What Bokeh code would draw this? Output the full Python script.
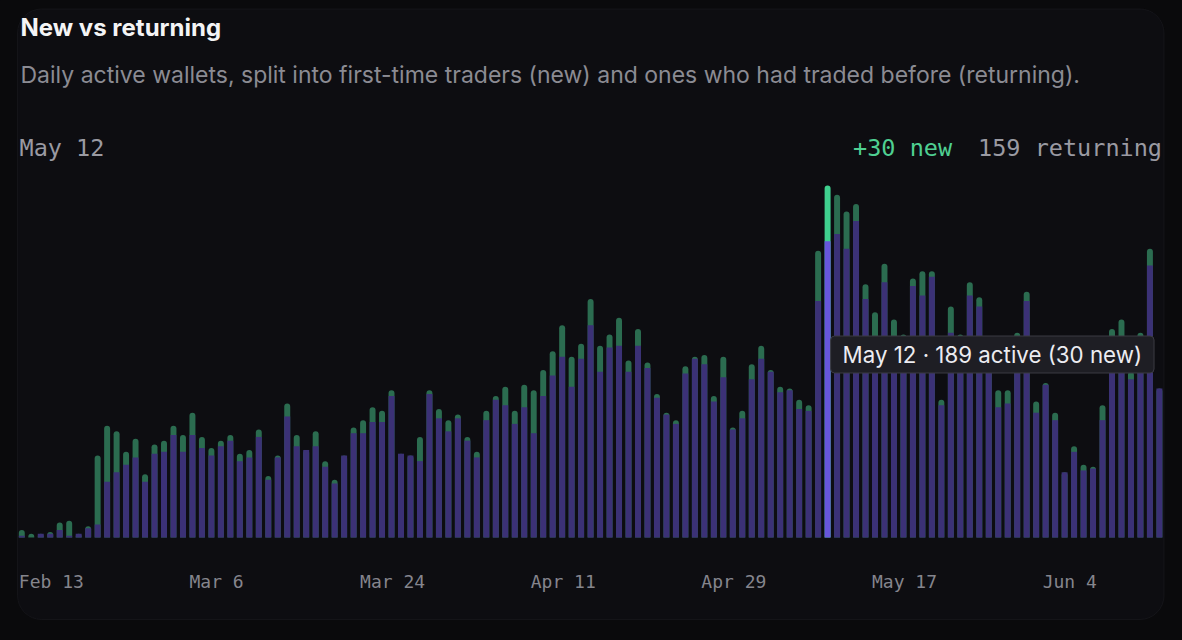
from bokeh.plotting import figure
from bokeh.models import (Label, BoxAnnotation, ColumnDataSource, Range1d,
                          GlobalInlineStyleSheet, VBar)
from bokeh.core.properties import value
from bokeh.embed import file_html
from bokeh.resources import INLINE

# ---------------- data ----------------
title = "New vs returning"
subtitle = ("Daily active wallets, split into first-time traders (new) "
            "and ones who had traded before (returning).")

returning = [1, 0, 2, 2, 4, 1, 2, 5, 7, 30,
             35, 39, 43, 30, 45, 46, 55, 46, 55, 48,
             44, 49, 52, 41, 43, 54, 31, 43, 65, 49,
             47, 49, 38, 29, 44, 56, 56, 62, 62, 76,
             45, 44, 41, 77, 64, 57, 64, 52, 43, 63,
             74, 71, 61, 70, 56, 76, 87, 97, 81, 96,
             114, 89, 102, 103, 89, 103, 91, 75, 66, 61,
             88, 96, 93, 73, 86, 58, 64, 85, 96, 89,
             78, 79, 69, 68, 127, 159, 163, 155, 170, 128,
             105, 137, 107, 108, 135, 130, 140, 71, 110, 108,
             130, 124, 92, 70, 72, 107, 127, 67, 82, 63,
             35, 46, 36, 37, 63, 108, 107, 85, 107, 146,
             80]
new = [3, 2, 0, 1, 4, 8, 0, 1, 37, 30,
       22, 7, 10, 4, 5, 6, 5, 9, 12, 6,
       4, 3, 3, 4, 4, 4, 2, 1, 7, 6,
       0, 8, 3, 2, 0, 3, 7, 8, 6, 3,
       0, 0, 13, 2, 5, 6, 2, 2, 3, 5,
       2, 10, 7, 12, 23, 14, 13, 17, 16, 8,
       14, 14, 7, 15, 6, 9, 3, 2, 1, 2,
       4, 1, 5, 3, 11, 1, 4, 8, 7, 1,
       3, 1, 5, 3, 27, 30, 21, 20, 9, 8,
       16, 10, 10, 1, 4, 13, 3, 3, 14, 1,
       7, 5, 3, 9, 7, 3, 5, 6, 1, 4,
       0, 3, 3, 1, 8, 4, 10, 4, 3, 9,
       0]
tick_index = [0, 18, 36, 54, 72, 90, 108]
tick_labels = ["Feb 13", "Mar 6", "Mar 24", "Apr 11", "Apr 29", "May 17", "Jun 4"]
focus_index = 85
focus_label = "May 12"

# ---------------- style / layout ----------------
OUT = "#0a0a0c"
CARD = "#0d0d11"
EDGE = "#2c2c32"
PURPLE_DIM, PURPLE_HI = "#3b3176", "#6756dc"
GREEN_DIM, GREEN_HI = "#2b6c50", "#3fd08e"
MONO = "DejaVu Sans Mono"
SANS = "Inter"

W, H = 1176, 634          # figure size
PAGE = 0                  # observed page offset of the canvas
BAR0_PX = 21.3            # page x of first bar centre
STEP_PX = 9.48            # page px per bar
BASE_PX = 537             # page y of the baseline
TOP_PX = 185              # page y of the tallest bar
BAR_W = 0.63

total = [r + n for r, n in zip(returning, new)]
unit_px = (BASE_PX - TOP_PX) / max(total)
x0 = -(BAR0_PX - PAGE) / STEP_PX
x1 = x0 + W / STEP_PX
y0 = -(PAGE + H - BASE_PX) / unit_px
y1 = y0 + H / unit_px


def X(px):
    return x0 + (px - PAGE) / STEP_PX


def Y(py):
    return y0 + (PAGE + H - py) / unit_px


p = figure(width=W, height=H, x_range=Range1d(x0, x1), y_range=Range1d(y0, y1),
           toolbar_location=None, output_backend="svg", min_border=0,
           x_axis_type=None, y_axis_type=None, title=None,
           outline_line_color=None, background_fill_color=OUT,
           border_fill_color=OUT)
p.stylesheets = [GlobalInlineStyleSheet(css="html, body { background: #0a0a0c; }")]

# card
card_kw = dict(left=X(17), right=X(1163.5), top=Y(8.5), bottom=Y(619),
               fill_color=CARD, fill_alpha=1, line_color=EDGE, line_width=1,
               level="underlay")
if "border_radius" in BoxAnnotation.properties():
    card_kw["border_radius"] = 24
p.add_layout(BoxAnnotation(**card_kw))

# bars
idx = list(range(len(returning)))
src = ColumnDataSource(dict(
    x=idx, returning=returning, total=total,
    ret_color=[PURPLE_HI if i == focus_index else PURPLE_DIM for i in idx],
    new_color=[GREEN_HI if i == focus_index else GREEN_DIM for i in idx],
))
rkw = {}
if "border_radius" in VBar.properties():
    rkw["border_radius"] = (3, 3, 0, 0)
p.vbar(x="x", bottom=0, top="total", width=BAR_W, fill_color="new_color",
       line_color=None, source=src, **rkw)
p.vbar(x="x", bottom=0, top="returning", width=BAR_W, fill_color="ret_color",
       line_color=None, source=src)

# x tick labels (left aligned to bar's left edge)
p.text(x=[t - BAR_W / 2 for t in tick_index], y=[Y(580.5)] * len(tick_index),
       text=tick_labels, text_font=value(MONO), text_font_size="18px",
       text_color="#85858d", text_align="left", text_baseline="alphabetic")

# headings
p.add_layout(Label(x=X(20), y=Y(27), text=title, text_font=SANS,
                   text_font_style="bold", text_font_size="24px",
                   text_color="#f4f4f5", text_align="left",
                   text_baseline="alphabetic"))
p.add_layout(Label(x=X(20), y=Y(74), text=subtitle, text_font=SANS,
                   text_font_size="23px", text_color="#8b8b93",
                   text_align="left", text_baseline="alphabetic"))

# readout row
cw = 0.602 * 23.5
ret_txt = f"{returning[focus_index]} returning"
new_txt = f"+{new[focus_index]} new"
p.add_layout(Label(x=X(19), y=Y(147), text=focus_label, text_font=MONO,
                   text_font_size="23.5px", text_color="#9a9aa2",
                   text_align="left", text_baseline="alphabetic"))
p.add_layout(Label(x=X(1161.5), y=Y(147), text=ret_txt, text_font=MONO,
                   text_font_size="23.5px", text_color="#9a9aa2",
                   text_align="right", text_baseline="alphabetic"))
p.add_layout(Label(x=X(1161.5 - len(ret_txt) * cw - 26), y=Y(147), text=new_txt,
                   text_font=MONO, text_font_size="23.5px", text_color="#4fcf92",
                   text_align="right", text_baseline="alphabetic"))

# tooltip
tip_txt = f"{focus_label} · {total[focus_index]} active ({new[focus_index]} new)"
tip_kw = dict(x=focus_index, x_offset=3, y=Y(354), text=tip_txt,
              text_font=SANS, text_font_size="22.3px", text_color="#ececf1",
              text_align="left", text_baseline="middle",
              background_fill_color="#1e1e24", background_fill_alpha=1,
              border_line_color="#3b3b43", border_line_width=1)
try:
    tip = Label(padding=dict(left=12, right=12, top=5, bottom=5), border_radius=4, **tip_kw)
except Exception:
    tip = Label(**tip_kw)
p.add_layout(tip)

open("out.html", "w").write(file_html(p, INLINE))
